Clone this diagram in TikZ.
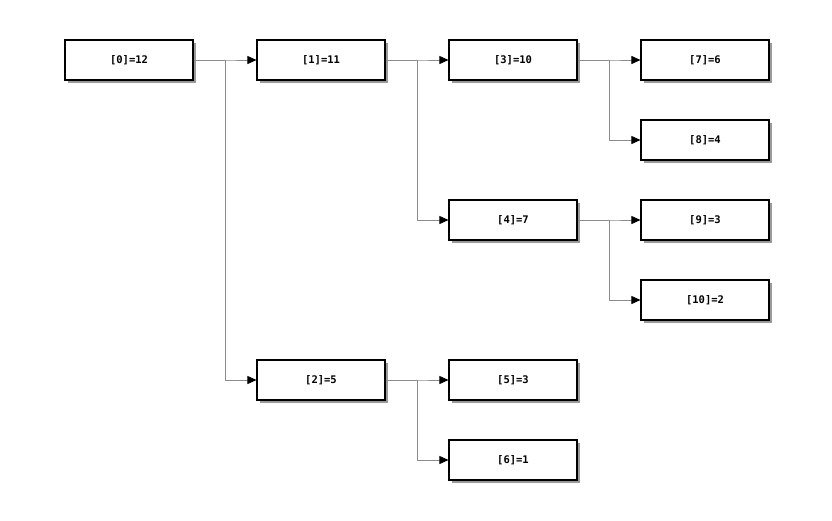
\documentclass[tikz,border=0pt]{standalone}
\usepackage{fontspec}
\setmonofont{DejaVu Sans Mono}
\usetikzlibrary{shadows,arrows.meta}

\begin{document}
\begin{tikzpicture}[x=1pt,y=-1pt,
    knoten/.style={draw=black, line width=1.1pt, fill=white, minimum width=128pt, minimum height=40pt,
      inner sep=0pt, font=\ttfamily\bfseries\fontsize{10.5}{12}\selectfont,
      drop shadow={shadow xshift=3pt, shadow yshift=-3pt, opacity=0.4, fill=black}},
    kante/.style={draw=black!45, line width=0.7pt, -{Triangle[black,length=9pt,width=8pt]}},
]

\useasboundingbox (0,0) rectangle (832,520);

\node [knoten] (n0) at (129,60) {[0]=12};
\node [knoten] (n1) at (321,60) {[1]=11};
\node [knoten] (n2) at (321,380) {[2]=5};
\node [knoten] (n3) at (513,60) {[3]=10};
\node [knoten] (n4) at (513,220) {[4]=7};
\node [knoten] (n5) at (513,380) {[5]=3};
\node [knoten] (n6) at (513,460) {[6]=1};
\node [knoten] (n7) at (705,60) {[7]=6};
\node [knoten] (n8) at (705,140) {[8]=4};
\node [knoten] (n9) at (705,220) {[9]=3};
\node [knoten] (n10) at (705,300) {[10]=2};

\foreach \a/\b in {0/1,0/2,1/3,1/4,2/5,2/6,3/7,3/8,4/9,4/10}
  \draw [kante] (n\a.east) -- ++(32,0) |- (n\b.west);

\end{tikzpicture}
\end{document}
